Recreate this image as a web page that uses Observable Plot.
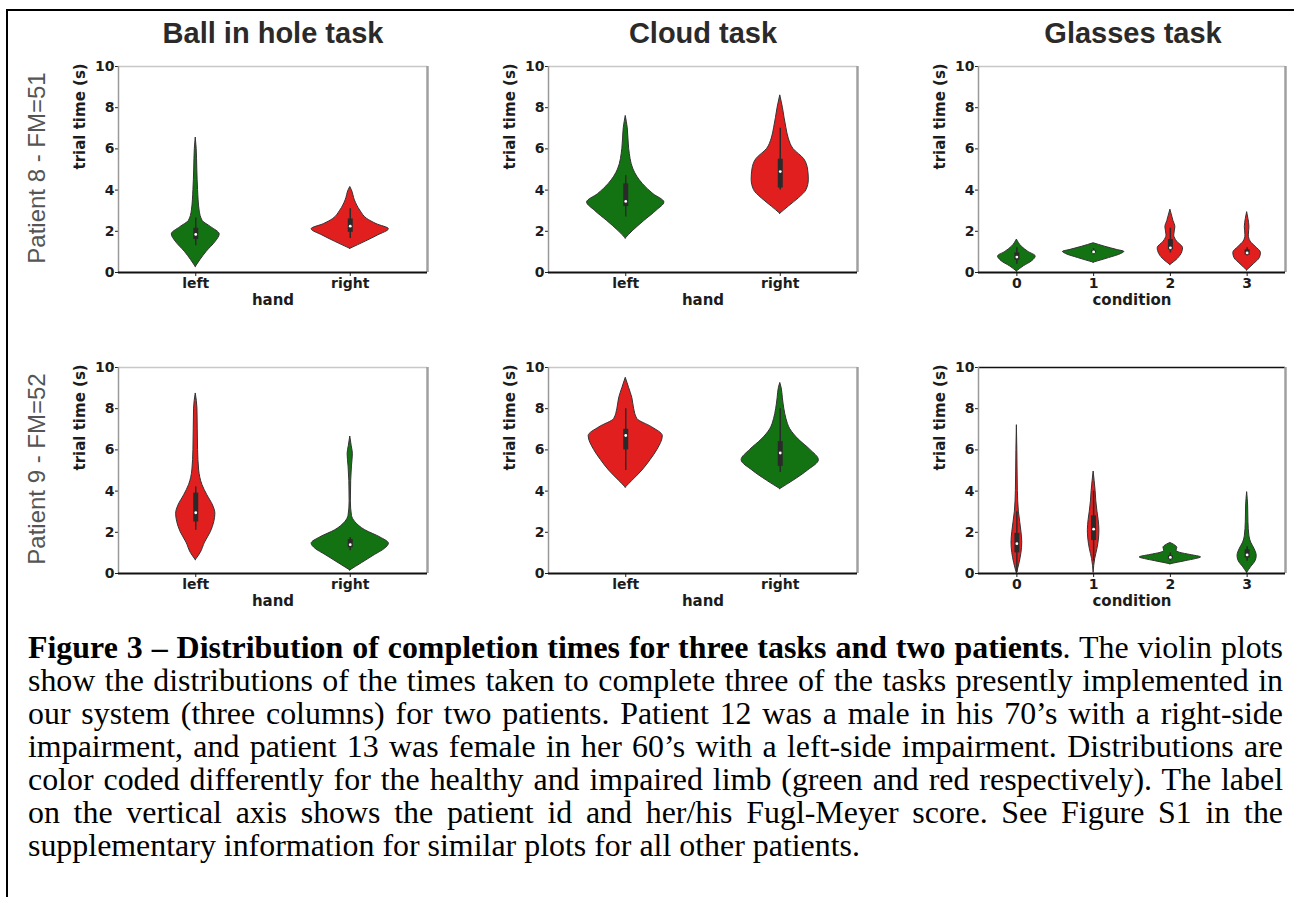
<!DOCTYPE html>
<html><head><meta charset="utf-8">
<script src="https://cdn.jsdelivr.net/npm/d3@7"></script>
<script src="https://cdn.jsdelivr.net/npm/@observablehq/plot@0.6"></script>
<style>
body{margin:0;background:#fff;}
#fig{position:relative;width:1294px;height:897px;overflow:hidden;background:#fff;}
.abs{position:absolute;}
.title{font-family:"Liberation Sans",Arimo,Arial,sans-serif;font-weight:bold;font-size:29px;color:#2a2a2a;transform:translate(-50%,-50%);white-space:nowrap;}
.rowlab{font-family:"Liberation Sans",Arimo,Arial,sans-serif;font-size:24px;color:#555;transform:translate(-50%,-50%) rotate(-90deg);white-space:nowrap;}
#cap{font-family:"Liberation Serif",Tinos,"Times New Roman",Times,serif;font-size:31px;line-height:33px;color:#000;transform-origin:0 0;}
#cap div{white-space:nowrap;}
.border{position:absolute;background:#000;}
</style></head>
<body><div id="fig"></div>
<script>
// ---------- data ----------
const tasks = ["Ball in hole task", "Cloud task", "Glasses task"];
const patients = ["Patient 8 - FM=51", "Patient 9 - FM=52"];
const handCats = ["left", "right"];
const condCats = ["0", "1", "2", "3"];
const yTicks = [0, 2, 4, 6, 8, 10];
const yLabel = "trial time (s)";
const xLabels = ["hand", "hand", "condition"];

// violin profiles: [trial time (s), half-width in category units]; box: [whisker lo, q1, median, q3, whisker hi]
const p8Ball = [
  {limb: "healthy", profile: [[0.27,0],[0.6,0.03],[1.0,0.07],[1.5,0.13],[1.85,0.155],[2.2,0.1],[2.5,0.045],[3.0,0.025],[4.0,0.015],[5.0,0.01],[6.0,0.006],[6.55,0]], box: [1.3,1.6,1.85,2.15,2.65]},
  {limb: "impaired", profile: [[1.15,0],[1.5,0.1],[1.8,0.18],[2.1,0.25],[2.35,0.17],[2.6,0.11],[3.0,0.065],[3.5,0.03],[4.0,0.01],[4.15,0]], box: [1.65,1.95,2.25,2.6,3.1]}
];
const p8Cloud = [
  {limb: "healthy", profile: [[1.65,0],[2.0,0.045],[2.5,0.12],[3.0,0.2],[3.4,0.25],[3.8,0.18],[4.3,0.11],[5.0,0.05],[6.0,0.022],[7.0,0.013],[7.6,0]], box: [2.7,3.2,3.45,4.3,4.7]},
  {limb: "impaired", profile: [[2.85,0],[3.2,0.055],[3.6,0.12],[4.0,0.17],[4.5,0.185],[5.0,0.18],[5.5,0.155],[6.0,0.085],[6.5,0.055],[7.0,0.04],[7.5,0.028],[8.0,0.017],[8.6,0]], box: [4.0,4.1,4.9,5.5,7.0]}
];
const p8Glasses = [
  {limb: "healthy", profile: [[0.05,0],[0.3,0.09],[0.55,0.2],[0.78,0.245],[1.0,0.15],[1.25,0.065],[1.6,0]], box: [0.4,0.6,0.75,0.95,1.2]},
  {limb: "healthy", profile: [[0.48,0],[0.7,0.2],[0.9,0.36],[1.0,0.4],[1.1,0.3],[1.25,0.15],[1.42,0]], box: [0.85,0.95,1.0,1.05,1.15]},
  {limb: "impaired", profile: [[0.37,0],[0.6,0.08],[0.9,0.145],[1.18,0.165],[1.5,0.087],[1.8,0.05],[2.2,0.065],[2.5,0.04],[3.05,0]], box: [0.95,1.1,1.2,1.6,2.15]},
  {limb: "impaired", profile: [[0.1,0],[0.4,0.087],[0.7,0.165],[0.95,0.18],[1.25,0.11],[1.5,0.045],[1.8,0.022],[2.2,0.03],[2.6,0.017],[2.93,0]], box: [0.8,0.85,0.95,1.1,1.2]}
];
const p9Ball = [
  {limb: "impaired", profile: [[0.65,0],[1.0,0.032],[1.5,0.06],[2.0,0.097],[2.5,0.12],[2.9,0.127],[3.3,0.112],[3.8,0.075],[4.3,0.043],[5.0,0.022],[6.0,0.015],[7.0,0.013],[8.0,0.011],[8.74,0]], box: [2.1,2.5,2.95,3.9,4.2]},
  {limb: "healthy", profile: [[0.15,0],[0.5,0.075],[0.9,0.16],[1.2,0.225],[1.45,0.25],[1.75,0.195],[2.1,0.097],[2.5,0.032],[2.8,0.011],[3.5,0.004],[4.5,0.006],[5.2,0.011],[5.8,0.017],[6.2,0.009],[6.65,0]], box: [1.1,1.25,1.4,1.65,1.75]}
];
const p9Cloud = [
  {limb: "impaired", profile: [[4.17,0],[4.5,0.043],[5.0,0.108],[5.5,0.16],[6.0,0.205],[6.67,0.24],[7.1,0.17],[7.5,0.075],[8.0,0.054],[8.5,0.043],[9.0,0.022],[9.5,0]], box: [5.0,6.0,6.7,7.0,8.0]},
  {limb: "healthy", profile: [[4.1,0],[4.5,0.085],[5.0,0.18],[5.5,0.25],[6.0,0.195],[6.5,0.12],[7.0,0.065],[7.5,0.04],[8.0,0.026],[8.5,0.017],[9.0,0.009],[9.25,0]], box: [4.9,5.2,5.85,6.4,8.0]}
];
const p9Glasses = [
  {limb: "impaired", profile: [[0.0,0],[0.5,0.035],[1.0,0.06],[1.5,0.07],[2.0,0.06],[2.5,0.043],[3.0,0.026],[4.0,0.013],[5.0,0.009],[6.0,0.006],[7.2,0]], box: [0.05,1.0,1.45,1.95,3.0]},
  {limb: "impaired", profile: [[0.05,0],[0.7,0.02],[1.2,0.05],[1.7,0.07],[2.1,0.075],[2.6,0.065],[3.0,0.05],[3.5,0.035],[4.0,0.026],[4.5,0.013],[4.95,0]], box: [0.6,1.6,2.15,2.8,4.0]},
  {limb: "healthy", profile: [[0.45,0],[0.6,0.2],[0.7,0.33],[0.78,0.4],[0.9,0.26],[1.0,0.13],[1.1,0.08],[1.25,0.09],[1.4,0.045],[1.48,0]], box: [0.6,0.7,0.78,0.85,1.0]},
  {limb: "healthy", profile: [[0.03,0],[0.3,0.05],[0.6,0.11],[0.85,0.125],[1.2,0.095],[1.5,0.052],[1.8,0.03],[2.5,0.017],[3.3,0.013],[3.95,0]], box: [0.6,0.75,0.9,1.15,1.3]}
];

const captionBold = "Figure 3 – Distribution of completion times for three tasks and two patients";
const captionLines = [
  ". The violin plots",
  "show the distributions of the times taken to complete three of the tasks presently implemented in",
  "our system (three columns) for two patients. Patient 12 was a male in his 70’s with a right-side",
  "impairment, and patient 13 was female in her 60’s with a left-side impairment. Distributions are",
  "color coded differently for the healthy and impaired limb (green and red respectively). The label",
  "on the vertical axis shows the patient id and her/his Fugl-Meyer score. See Figure S1 in the",
  "supplementary information for similar plots for all other patients."
];

// ---------- layout ----------
const frameLeft = [118, 548, 978], frameRight = [427, 857, 1285];
const frameTop = [66, 367], frameBottom = [272, 573];
const titleX = [273, 703, 1133], titleY = 33;
const rowLabX = 37, rowLabY = [168, 469];
const colors = {green: "#137313", red: "#e11f1f"};

const fig = document.getElementById("fig");
function addBorder(l, t, w, h) { const d = document.createElement("div"); d.className = "border"; Object.assign(d.style, {left: l + "px", top: t + "px", width: w + "px", height: h + "px"}); fig.appendChild(d); }
addBorder(6, 9, 1288, 2);
addBorder(6, 9, 2, 888);

tasks.forEach((t, c) => { const d = document.createElement("div"); d.className = "abs title"; d.textContent = t; d.style.left = titleX[c] + "px"; d.style.top = titleY + "px"; fig.appendChild(d); });
patients.forEach((p, r) => { const d = document.createElement("div"); d.className = "abs rowlab"; d.textContent = p; d.style.left = rowLabX + "px"; d.style.top = rowLabY[r] + "px"; fig.appendChild(d); });

function drawPanel(violins, cats, xLabel, col, row) {
  const L = frameLeft[col], R = frameRight[col], T = frameTop[row], B = frameBottom[row];
  const mL = 72, mR = 8, mT = 10, mB = 45;
  const n = cats.length;
  const area = [], boxes = [];
  violins.forEach((v, i) => {
    v.profile.forEach(([t, w]) => area.push({i, t, x1: i - w, x2: i + w, limb: v.limb}));
    const [lo, q1, med, q3, hi] = v.box;
    boxes.push({i, lo, q1, med, q3, hi});
  });
  const svg = Plot.plot({
    width: R - L + mL + mR, height: B - T + mT + mB,
    marginLeft: mL, marginRight: mR, marginTop: mT, marginBottom: mB,
    style: {fontFamily: "DejaVu Sans", fontSize: "14px", fontWeight: "bold", color: "#1c1c1c", background: "transparent", overflow: "visible"},
    x: {domain: [-0.5, n - 0.5], ticks: d3.range(n), tickFormat: i => cats[i], label: null, tickSize: 4, tickPadding: 2},
    y: {domain: [0, 10], ticks: yTicks, label: null, tickSize: 3, tickPadding: 1},
    color: {domain: ["healthy", "impaired"], range: [colors.green, colors.red]},
    marks: [
      Plot.ruleY([10], {stroke: row === 1 && col === 2 ? "#111" : "#c8c8c8", strokeWidth: 1.5}),
      Plot.ruleX([n - 0.5], {stroke: "#a0a0a0", strokeWidth: 2.5}),
      Plot.ruleX([-0.5], {stroke: "#999", strokeWidth: 1.5}),
      Plot.areaX(area, {y: "t", x1: "x1", x2: "x2", z: "i", fill: "limb", stroke: "#333", strokeWidth: 1, curve: "monotone-y"}),
      Plot.ruleX(boxes, {x: "i", y1: "lo", y2: "hi", stroke: "#2a2a2a", strokeWidth: 1.5}),
      Plot.ruleX(boxes, {x: "i", y1: "q1", y2: "q3", stroke: "#2a2a2a", strokeWidth: 5}),
      Plot.dot(boxes, {x: "i", y: "med", r: 1.4, fill: "white"}),
      Plot.ruleY([0], {stroke: "#111", strokeWidth: 2}),
      Plot.text([yLabel], {frameAnchor: "left", dx: -38, rotate: -90, text: d => d, fontSize: 15}),
      Plot.text([xLabel], {frameAnchor: "bottom", dy: 32, text: d => d, fontSize: 15})
    ]
  });
  svg.style.position = "absolute";
  svg.style.left = (L - mL) + "px";
  svg.style.top = (T - mT) + "px";
  fig.appendChild(svg);
}

const grid = [[p8Ball, p8Cloud, p8Glasses], [p9Ball, p9Cloud, p9Glasses]];
const catsByCol = [handCats, handCats, condCats];
grid.forEach((rowData, r) => rowData.forEach((v, c) => drawPanel(v, catsByCol[c], xLabels[c], c, r)));

// ---------- caption ----------
const capLeft = 28, capRight = 1283, capTop = 631, lastLineRight = 860;
const cap = document.createElement("div");
cap.id = "cap"; cap.className = "abs";
cap.style.left = capLeft + "px"; cap.style.top = capTop + "px";
fig.appendChild(cap);
const spans = captionLines.map((ln, k) => {
  const d = document.createElement("div");
  const s = document.createElement("span");
  if (k === 0) { const b = document.createElement("b"); b.textContent = captionBold; s.appendChild(b); s.appendChild(document.createTextNode(ln)); }
  else s.textContent = ln;
  d.appendChild(s); cap.appendChild(d);
  return s;
});
const widths = spans.map(s => s.getBoundingClientRect().width);
const sc = (lastLineRight - capLeft) / widths[widths.length - 1];
const W = (capRight - capLeft) / sc;
cap.style.width = W + "px";
spans.slice(0, -1).forEach((s, k) => {
  const nsp = (s.textContent.match(/ /g) || []).length;
  s.style.wordSpacing = ((W - widths[k]) / nsp) + "px";
});
cap.style.transform = `scaleX(${sc})`;
</script>
</body></html>
